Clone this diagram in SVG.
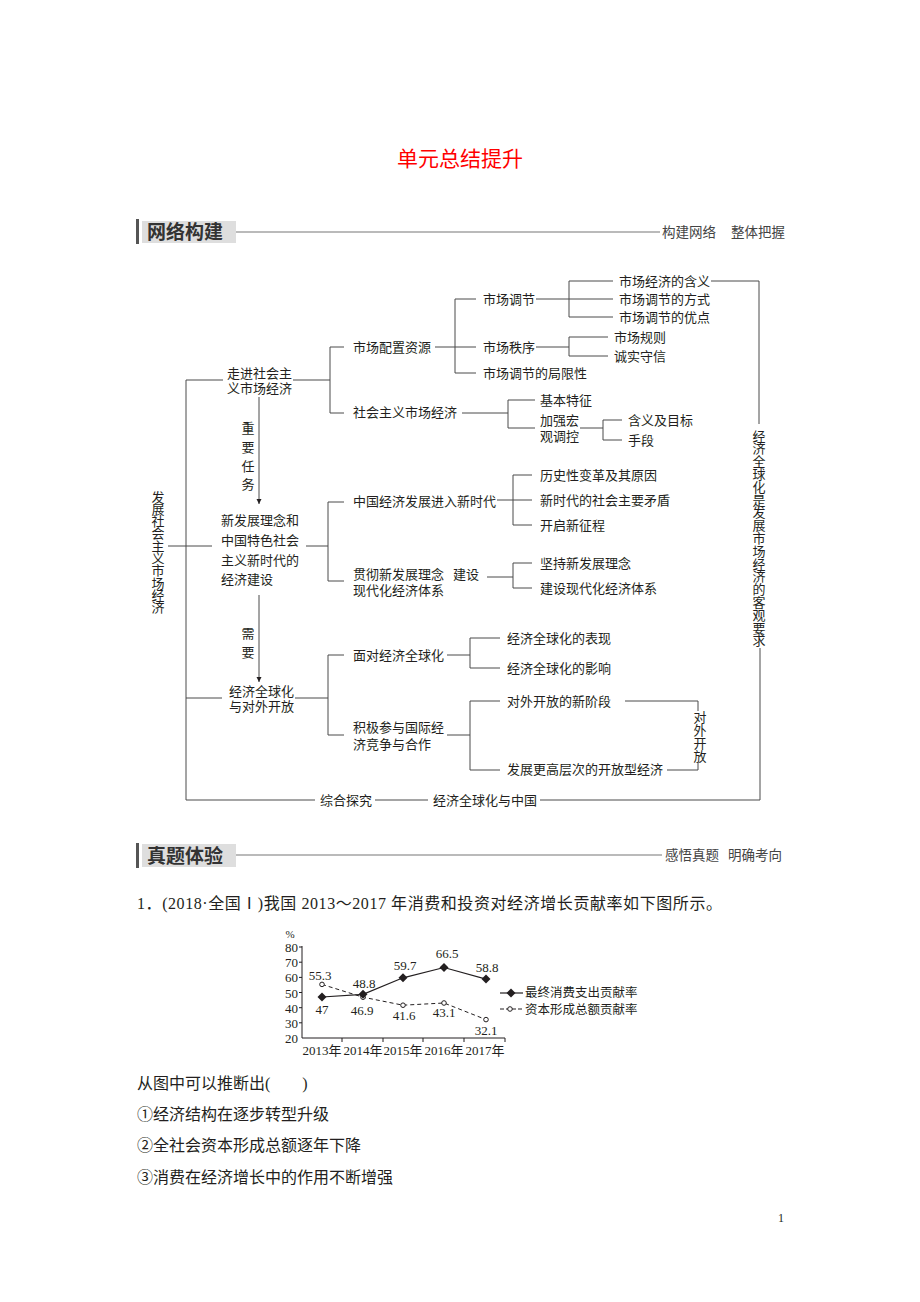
<svg xmlns="http://www.w3.org/2000/svg" width="920" height="1302" viewBox="0 0 920 1302">
<style>
.t{font-family:"Liberation Serif","Noto Sans CJK SC",serif;font-size:13px;fill:#231f20;dominant-baseline:central}
.tm{text-anchor:middle}
.ln{stroke:#4a4a4a;stroke-width:1;fill:none}
.hd{font-family:"Liberation Sans","Noto Sans CJK SC",sans-serif;font-weight:bold;font-size:19px;fill:#333;dominant-baseline:central}
.hr{font-family:"Liberation Sans","Noto Sans CJK SC",sans-serif;font-size:13.5px;fill:#444;dominant-baseline:central}
.hl{stroke:#777;stroke-width:1.2;fill:none}
.q{font-family:"Liberation Serif","Noto Sans CJK SC",serif;font-size:16px;fill:#231f20;dominant-baseline:central}
.c{font-family:"Liberation Serif","Noto Sans CJK SC",serif;font-size:13px;fill:#231f20;dominant-baseline:central}
.ax{stroke:#231f20;stroke-width:1;fill:none}
</style>
<defs>
<marker id="arr" viewBox="0 0 8 10" refX="8" refY="5" markerWidth="5" markerHeight="7" orient="auto" markerUnits="userSpaceOnUse">
<path d="M0,1 L8,5 L0,9 Z" fill="#231f20"/>
</marker>
<path id="dia" d="M0,-4.5 L4.5,0 L0,4.5 L-4.5,0 Z" fill="#231f20"/>
</defs>
<rect width="920" height="1302" fill="#fff"/>

<g id="title"><text x="460" y="157" text-anchor="middle" style="font-family:'Noto Sans CJK SC',sans-serif;font-size:21px;fill:#ff0000;dominant-baseline:central">单元总结提升</text></g>

<g id="header1">
<rect x="136" y="219" width="3" height="25" fill="#555"/>
<rect x="142" y="221" width="94" height="22" fill="#dedede"/>
<text class="hd" x="147" y="232">网络构建</text>
<line class="hl" x1="236" y1="232" x2="660" y2="232"/>
<text class="hr" x="662" y="232">构建网络<tspan x="731">整体把握</tspan></text>
</g>

<g id="connectors">
<polyline class="ln" points="223,380 186,380 186,800 315,800"/>
<line class="ln" x1="168" y1="546" x2="212" y2="546"/>
<line class="ln" x1="186" y1="698" x2="222" y2="698"/>
<line class="ln" x1="375" y1="800" x2="428" y2="800"/>
<polyline class="ln" points="540,800 760,800 760,648"/>
<polyline class="ln" points="711,281 759,281 759,424"/>
<line class="ln" x1="293" y1="380" x2="330" y2="380"/>
<polyline class="ln" points="344,347 330,347 330,413 344,413"/>
<line class="ln" x1="435" y1="347" x2="476" y2="347"/>
<polyline class="ln" points="476,299 455,299 455,373 476,373"/>
<line class="ln" x1="536" y1="299" x2="613" y2="299"/>
<polyline class="ln" points="613,281 569,281 569,317 613,317"/>
<line class="ln" x1="536" y1="347" x2="569" y2="347"/>
<polyline class="ln" points="608,337 569,337 569,356 608,356"/>
<line class="ln" x1="462" y1="413" x2="508" y2="413"/>
<polyline class="ln" points="535,400 508,400 508,428 535,428"/>
<line class="ln" x1="580" y1="428" x2="603" y2="428"/>
<polyline class="ln" points="622,420 603,420 603,440 622,440"/>
<line class="ln" x1="259" y1="397" x2="259" y2="504" marker-end="url(#arr)"/>
<line class="ln" x1="306" y1="546" x2="328" y2="546"/>
<polyline class="ln" points="344,502 328,502 328,581 344,581"/>
<line class="ln" x1="497" y1="500" x2="532" y2="500"/>
<polyline class="ln" points="532,475 513,475 513,525 532,525"/>
<line class="ln" x1="487" y1="577" x2="513" y2="577"/>
<polyline class="ln" points="532,563 513,563 513,588 532,588"/>
<line class="ln" x1="259" y1="595" x2="259" y2="682" marker-end="url(#arr)"/>
<line class="ln" x1="295" y1="698" x2="328" y2="698"/>
<polyline class="ln" points="344,655 328,655 328,735 344,735"/>
<line class="ln" x1="447" y1="655" x2="470" y2="655"/>
<polyline class="ln" points="500,638 470,638 470,668 500,668"/>
<line class="ln" x1="447" y1="735" x2="470" y2="735"/>
<polyline class="ln" points="500,701 470,701 470,770 500,770"/>
<polyline class="ln" points="625,701 698,701 698,711"/>
<polyline class="ln" points="667,770 698,770 698,763"/>
</g>

<g id="root"><text class="t tm" x="158 158 158 158 158 158 158 158 158 158" y="497 509.3 521.6 533.9 546.2 558.5 570.8 583.1 595.4 607.7">发展社会主义市场经济</text></g>
<g id="right-label"><text class="t tm" x="759 759 759 759 759 759 759 759 759 759 759 759 759 759 759 759 759" y="436 448.8 461.6 474.4 487.2 500 512.8 525.6 538.4 551.2 564 576.8 589.6 602.4 615.2 628 640.8">经济全球化是发展市场经济的客观要求</text></g>

<g id="nA"><text class="t" x="227" y="373">走进社会主</text><text class="t" x="227" y="388">义市场经济</text></g>
<g id="nA1"><text class="t" x="353" y="347">市场配置资源</text></g>
<g id="nA2"><text class="t" x="353" y="412">社会主义市场经济</text></g>
<g id="nA11"><text class="t" x="483" y="299">市场调节</text></g>
<g id="nA12"><text class="t" x="483" y="347">市场秩序</text></g>
<g id="nA13"><text class="t" x="483" y="373">市场调节的局限性</text></g>
<g id="nA111"><text class="t" x="619" y="281">市场经济的含义</text></g>
<g id="nA112"><text class="t" x="619" y="299">市场调节的方式</text></g>
<g id="nA113"><text class="t" x="619" y="317">市场调节的优点</text></g>
<g id="nA121"><text class="t" x="614" y="337">市场规则</text></g>
<g id="nA122"><text class="t" x="614" y="356">诚实守信</text></g>
<g id="nA21"><text class="t" x="540" y="400">基本特征</text></g>
<g id="nA22"><text class="t" x="540" y="420">加强宏</text><text class="t" x="540" y="436">观调控</text></g>
<g id="nA221"><text class="t" x="628" y="420">含义及目标</text></g>
<g id="nA222"><text class="t" x="628" y="440">手段</text></g>
<g id="lab1"><text class="t tm" x="248 248 248 248" y="428 447 466 484">重要任务</text></g>

<g id="nB"><text class="t" x="221" y="520">新发展理念和</text><text class="t" x="221" y="540">中国特色社会</text><text class="t" x="221" y="560">主义新时代的</text><text class="t" x="221" y="579">经济建设</text></g>
<g id="nB1"><text class="t" x="353" y="501">中国经济发展进入新时代</text></g>
<g id="nB2"><text class="t" x="353" y="574">贯彻新发展理念<tspan x="453">建设</tspan></text><text class="t" x="353" y="590">现代化经济体系</text></g>
<g id="nB11"><text class="t" x="540" y="475">历史性变革及其原因</text></g>
<g id="nB12"><text class="t" x="540" y="500">新时代的社会主要矛盾</text></g>
<g id="nB13"><text class="t" x="540" y="525">开启新征程</text></g>
<g id="nB21"><text class="t" x="540" y="563">坚持新发展理念</text></g>
<g id="nB22"><text class="t" x="540" y="588">建设现代化经济体系</text></g>
<g id="lab2"><text class="t tm" x="248 248" y="633 652">需要</text></g>

<g id="nC"><text class="t" x="229" y="691">经济全球化</text><text class="t" x="229" y="706">与对外开放</text></g>
<g id="nC1"><text class="t" x="353" y="655">面对经济全球化</text></g>
<g id="nC2"><text class="t" x="353" y="727">积极参与国际经</text><text class="t" x="353" y="744">济竞争与合作</text></g>
<g id="nC11"><text class="t" x="507" y="638">经济全球化的表现</text></g>
<g id="nC12"><text class="t" x="507" y="668">经济全球化的影响</text></g>
<g id="nC21"><text class="t" x="507" y="701">对外开放的新阶段</text></g>
<g id="nC22"><text class="t" x="507" y="769">发展更高层次的开放型经济</text></g>
<g id="nC2b"><text class="t tm" x="700 700 700 700" y="717 730 743 756">对外开放</text></g>
<g id="nD"><text class="t" x="320" y="800">综合探究</text></g>
<g id="nD1"><text class="t" x="433" y="800">经济全球化与中国</text></g>

<g id="header2">
<rect x="136" y="843" width="3" height="25" fill="#555"/>
<rect x="142" y="844" width="94" height="23" fill="#dedede"/>
<text class="hd" x="147" y="856">真题体验</text>
<line class="hl" x1="236" y1="855" x2="662" y2="855"/>
<text class="hr" x="665" y="855">感悟真题<tspan x="728">明确考向</tspan></text>
</g>

<g id="question"><text class="q" x="137" y="903" textLength="585" lengthAdjust="spacing">1．(2018·全国Ⅰ)我国 2013～2017 年消费和投资对经济增长贡献率如下图所示。</text></g>

<g id="chart">
<text class="c" x="290" y="934" text-anchor="middle" style="font-size:11px">%</text>
<polyline class="ax" points="302,946 302,1038 505,1038"/>
<path class="ax" d="M299,947H302M299,962.2H302M299,977.4H302M299,992.5H302M299,1007.7H302M299,1022.8H302M342,1038V1042M383,1038V1042M423,1038V1042M464,1038V1042M505,1038V1042"/>
<text class="c" x="298" y="947" text-anchor="end">80</text>
<text class="c" x="298" y="962" text-anchor="end">70</text>
<text class="c" x="298" y="977" text-anchor="end">60</text>
<text class="c" x="298" y="993" text-anchor="end">50</text>
<text class="c" x="298" y="1008" text-anchor="end">40</text>
<text class="c" x="298" y="1023" text-anchor="end">30</text>
<text class="c" x="298" y="1038" text-anchor="end">20</text>
<text class="c" x="322" y="1050" text-anchor="middle">2013年</text>
<text class="c" x="363" y="1050" text-anchor="middle">2014年</text>
<text class="c" x="403" y="1050" text-anchor="middle">2015年</text>
<text class="c" x="444" y="1050" text-anchor="middle">2016年</text>
<text class="c" x="485" y="1050" text-anchor="middle">2017年</text>
<polyline fill="none" stroke="#231f20" stroke-width="1" stroke-dasharray="4,3" points="322,984.4 363,997.2 403,1005.2 444,1003 486,1019.6"/>
<polyline fill="none" stroke="#231f20" stroke-width="1.2" points="322,997 363,994.3 403,977.8 444,967.5 486,979.1"/>
<g fill="#fff" stroke="#231f20" stroke-width="1">
<circle cx="322" cy="984.4" r="2.3"/><circle cx="363" cy="997.2" r="2.3"/><circle cx="403" cy="1005.2" r="2.3"/><circle cx="444" cy="1003" r="2.3"/><circle cx="486" cy="1019.6" r="2.3"/>
</g>
<use href="#dia" x="322" y="997"/><use href="#dia" x="363" y="994.3"/><use href="#dia" x="403" y="977.8"/><use href="#dia" x="444" y="967.5"/><use href="#dia" x="486" y="979.1"/>
<text class="c" x="320" y="975" text-anchor="middle">55.3</text>
<text class="c" x="322" y="1009" text-anchor="middle">47</text>
<text class="c" x="364" y="983" text-anchor="middle">48.8</text>
<text class="c" x="362" y="1010" text-anchor="middle">46.9</text>
<text class="c" x="405" y="965" text-anchor="middle">59.7</text>
<text class="c" x="404" y="1015" text-anchor="middle">41.6</text>
<text class="c" x="447" y="953" text-anchor="middle">66.5</text>
<text class="c" x="444" y="1012" text-anchor="middle">43.1</text>
<text class="c" x="487" y="967" text-anchor="middle">58.8</text>
<text class="c" x="486" y="1030" text-anchor="middle">32.1</text>
<line x1="500" y1="993" x2="523" y2="993" stroke="#231f20" stroke-width="1.2"/>
<use href="#dia" x="511" y="993"/>
<text class="c" x="525" y="993" style="font-size:12.5px">最终消费支出贡献率</text>
<line x1="500" y1="1009" x2="523" y2="1009" stroke="#231f20" stroke-width="1" stroke-dasharray="4,2"/>
<circle cx="510" cy="1009" r="2.3" fill="#fff" stroke="#231f20"/>
<text class="c" x="525" y="1010" style="font-size:12.5px">资本形成总额贡献率</text>
</g>

<g id="options">
<text class="q" x="137" y="1083">从图中可以推断出(　　)</text>
<text class="q" x="137" y="1114">①经济结构在逐步转型升级</text>
<text class="q" x="137" y="1145">②全社会资本形成总额逐年下降</text>
<text class="q" x="137" y="1177">③消费在经济增长中的作用不断增强</text>
</g>
<g id="page"><text class="c" x="781" y="1218" text-anchor="middle" style="font-size:12px">1</text></g>
</svg>
